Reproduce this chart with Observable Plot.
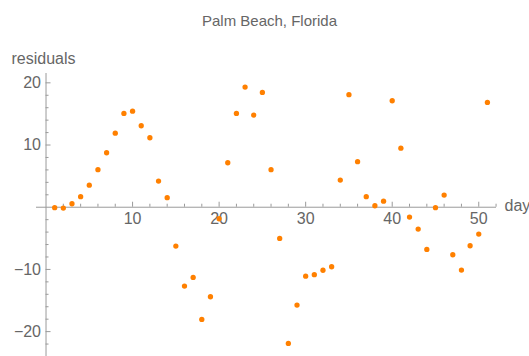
<!DOCTYPE html>
<html><head><meta charset="utf-8">
<script src="https://cdn.jsdelivr.net/npm/d3@7"></script>
<script src="https://cdn.jsdelivr.net/npm/@observablehq/plot@0.6"></script>
<style>html,body{margin:0;padding:0;background:#fff;overflow:hidden}</style>
</head><body><div id="chart"></div>
<script>
const title = "Palm Beach, Florida";
const xLabel = "days";
const yLabel = "residuals";
const days = [1,2,3,4,5,6,7,8,9,10,11,12,13,14,15,16,17,18,19,20,21,22,23,24,25,26,27,28,29,30,31,32,33,34,35,36,37,38,39,40,41,42,43,44,45,46,47,48,49,50,51];
const residuals = [-0.08,-0.14,0.56,1.69,3.55,6.03,8.76,11.91,15.08,15.45,13.10,11.17,4.20,1.53,-6.25,-12.68,-11.29,-18.04,-14.39,-1.85,7.15,15.08,19.31,14.81,18.46,6.03,-5.02,-21.9,-15.74,-11.08,-10.85,-10.13,-9.57,4.36,18.09,7.32,1.69,0.24,0.98,17.12,9.50,-1.59,-3.52,-6.78,-0.08,1.95,-7.64,-10.11,-6.19,-4.32,16.85];
const xMajorTicks = [10,20,30,40,50];
const xMinorTicks = [2,4,6,8,12,14,16,18,22,24,26,28,32,34,36,38,42,44,46,48,52];
const yMajorTicks = [-20,-10,10,20];
const yMinorTicks = [-22,-18,-16,-14,-12,-8,-6,-4,-2,2,4,6,8,12,14,16,18];

const W = 529, H = 356, mt = 73, mb = 0, ml = 36, mr = 33;
const xDomain = [-1.1, 52.05], yDomain = [-24, 21.5];
const pxY = (H - mt - mb) / (yDomain[1] - yDomain[0]);
const pxX = (W - ml - mr) / (xDomain[1] - xDomain[0]);
const data = days.map((d, i) => ({day: d, residual: residuals[i]}));
const axisColor = "#9a9a9a", textColor = "#666666";
const fmt = d => d < 0 ? "\u2212" + Math.abs(d) : String(d);

const plot = Plot.plot({
  width: W, height: H, marginTop: mt, marginBottom: mb, marginLeft: ml, marginRight: mr,
  x: {domain: xDomain, axis: null},
  y: {domain: yDomain, axis: null},
  style: {fontFamily: "'Liberation Sans', Arial, sans-serif", background: "white", overflow: "visible"},
  marks: [
    Plot.ruleY([0], {stroke: axisColor}),
    Plot.ruleX([0], {stroke: axisColor}),
    Plot.ruleX(xMajorTicks, {x: d => d, y1: 0, y2: 5 / pxY, stroke: axisColor}),
    Plot.ruleX(xMinorTicks, {x: d => d, y1: 0, y2: 3 / pxY, stroke: axisColor}),
    Plot.ruleY(yMajorTicks, {y: d => d, x1: 0, x2: 5 / pxX, stroke: axisColor}),
    Plot.ruleY(yMinorTicks, {y: d => d, x1: 0, x2: 3 / pxX, stroke: axisColor}),
    Plot.text(xMajorTicks, {x: d => d, y: 0, text: fmt, lineAnchor: "top", dy: 5, fontSize: 16, fill: textColor}),
    Plot.text(yMajorTicks, {x: 0, y: d => d, text: fmt, textAnchor: "end", dx: -5, fontSize: 16, fill: textColor}),
    Plot.text([xLabel], {x: xDomain[1], y: 0, text: d => d, textAnchor: "start", dx: 8, dy: -1, fontSize: 16, fill: textColor}),
    Plot.text([yLabel], {frameAnchor: "top-left", text: d => d, textAnchor: "start", lineAnchor: "middle", dx: -25, dy: -14.5, fontSize: 16, fill: textColor}),
    Plot.text([title], {frameAnchor: "top", text: d => d, lineAnchor: "middle", dx: 3, dy: -52.5, fontSize: 15, fill: textColor}),
    Plot.dot(data, {x: "day", y: "residual", r: 2.65, fill: "#ff8000", stroke: "none"})
  ]
});
document.getElementById("chart").appendChild(plot);
</script>
</body></html>
